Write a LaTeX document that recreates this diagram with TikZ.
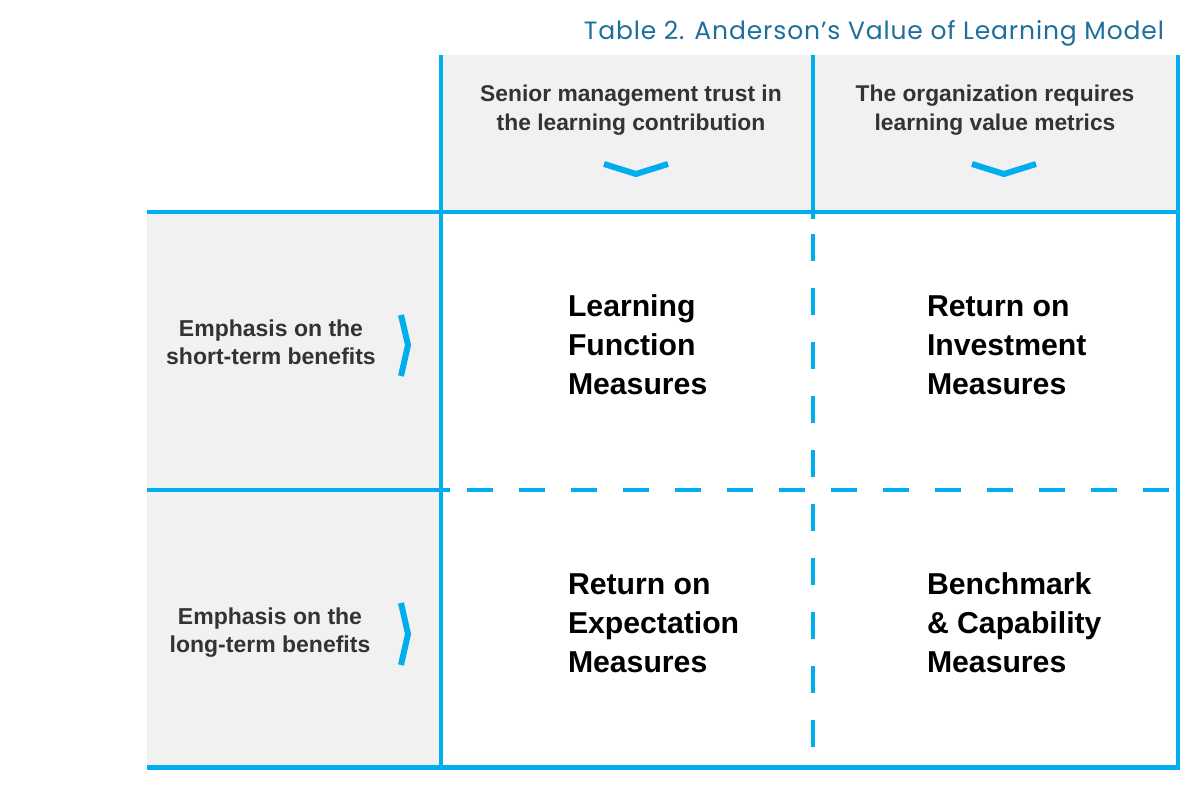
\documentclass[tikz,border=0pt]{standalone}
\usepackage{fontspec}
\setmainfont{Liberation Sans}
\newfontfamily\titlefont[LetterSpace=3.5]{Poppins}
\usetikzlibrary{positioning}
\definecolor{gridblue}{HTML}{00AEEF}
\definecolor{cellgrey}{HTML}{F1F1F1}
\definecolor{titleblue}{HTML}{1F6E9C}
\definecolor{labelgrey}{HTML}{333333}

\begin{document}
\begin{tikzpicture}[x=1pt, y=-1pt, line width=4pt,
        every node/.append style={inner sep=0pt},
        gridline/.style={draw=gridblue},
        dashline/.style={draw=gridblue, dash pattern=on 27pt off 27pt},
        chevron/.style={draw=gridblue, line width=6pt, line join=miter}]
      \tikzstyle{head} = [font=\bfseries\fontsize{22.8}{29}\selectfont, color=labelgrey, align=center]
      \tikzstyle{rowhead} = [font=\bfseries\fontsize{23}{28}\selectfont, color=labelgrey, align=center]
      \tikzstyle{measure} = [font=\bfseries\fontsize{30.2}{39}\selectfont, color=black, align=left, anchor=west]
      \useasboundingbox (0,0) rectangle (1204,786);
      % grey header cells
      \fill[cellgrey] (441,55) rectangle (1178,212);
      \fill[cellgrey] (147,212) rectangle (441,767);
      % title
      \node (title) [anchor=east, font=\titlefont\fontsize{25}{28}\selectfont, color=titleblue] at (1166,33) {Table 2. Anderson’s Value of Learning Model};
      % column headers
      \node (trust) [head] at (631,110) {Senior management trust in\\the learning contribution};
      \node (metrics) [head] at (995,110) {The organization requires\\learning value metrics};
      % row headers
      \node (short) [rowhead] at (271,342) {Emphasis on the\\short-term benefits};
      \node (long) [rowhead] at (270,633) {Emphasis on the\\long-term benefits};
      % cells
      \node (lfm) [measure] at (566,345) {Learning\\Function\\Measures};
      \node (roi) [measure] at (925,345) {Return on\\Investment\\Measures};
      \node (roe) [measure] at (566,623) {Return on\\Expectation\\Measures};
      \node (bcm) [measure] at (925,623) {Benchmark\\\& Capability\\Measures};
      % grid
      \draw[gridline] (441,55) -- (441,767);
      \draw[gridline] (813,55) -- (813,219);
      \draw[dashline] (813,234) -- (813,767);
      \draw[gridline] (1178,55) -- (1178,767);
      \draw[gridline] (147,212) -- (1180,212);
      \draw[gridline] (147,490) -- (450,490);
      \draw[dashline, dash pattern=on 26pt off 26pt] (467,490) -- (1180,490);
      \draw[gridline, line width=5pt] (147,767.5) -- (1180,767.5);
      % chevrons
      \draw[chevron] (604,164) -- (636,174) -- (668,164);
      \draw[chevron] (972,164) -- (1004,174) -- (1036,164);
      \draw[chevron] (401,315) -- (408,345) -- (401,376);
      \draw[chevron] (401,603) -- (408,634) -- (401,665);
\end{tikzpicture}
\end{document}
